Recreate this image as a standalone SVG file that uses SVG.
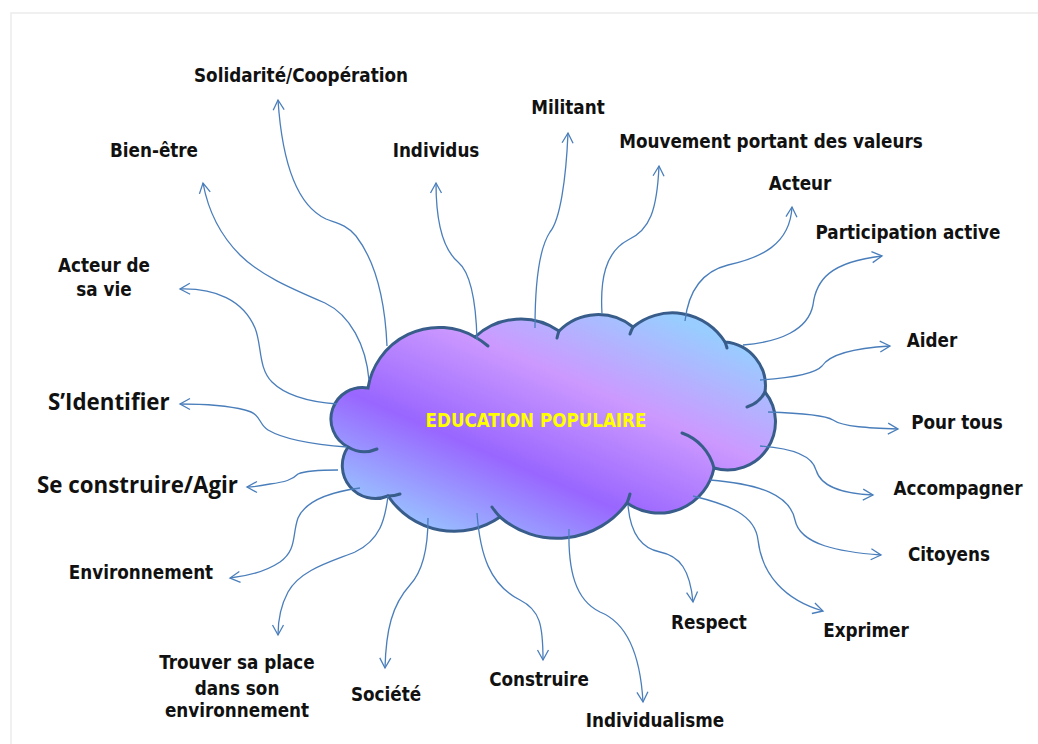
<svg xmlns="http://www.w3.org/2000/svg" width="1038" height="744" viewBox="0 0 1038 744">
  <defs>
    <linearGradient id="cloudFill" gradientUnits="userSpaceOnUse" x1="360" y1="545" x2="503" y2="217">
      <stop offset="0.08" stop-color="#99ccff"/>
      <stop offset="0.38" stop-color="#9966ff"/>
      <stop offset="0.66" stop-color="#cc99ff"/>
      <stop offset="0.93" stop-color="#99ccff"/>
    </linearGradient>
    <marker id="ah" markerUnits="userSpaceOnUse" markerWidth="12" markerHeight="12" refX="10" refY="6" orient="auto" overflow="visible">
      <path d="M0,0.5 L10,6 L0,11.5" fill="none" stroke="#4a7ebb" stroke-width="1.3"/>
    </marker>
    <style>
      .lbl { font-family: 'DejaVu Sans Condensed', 'DejaVu Sans', sans-serif; font-stretch: condensed; font-weight: bold; font-size: 18.7px; fill: #111; text-anchor: middle; }
      .big { font-family: 'Open Sans', 'Liberation Sans', sans-serif; font-weight: 700; font-size: 22.3px; fill: #111; }
      .title { font-family: 'DejaVu Sans Condensed', 'DejaVu Sans', sans-serif; font-stretch: condensed; font-weight: bold; font-size: 18.6px; fill: #ffff00; text-anchor: middle; }
      .body { fill: url(#cloudFill); stroke: #385d8a; stroke-width: 3; }
      .edge { fill: none; stroke: #385d8a; stroke-width: 3; stroke-linecap: round; }
      #connectors path { fill: none; stroke: #4a7ebb; stroke-width: 1.3; marker-end: url(#ah); }
    </style>
  </defs>

  <rect width="1038" height="744" fill="#ffffff"/>
  <!-- page frame -->
  <path d="M11,744 L11,13 L1038,13" fill="none" stroke="#ebebeb" stroke-width="1.5"/>

  <!-- central cloud -->
  <g id="node-education-populaire">
    <path class="body" d="M368,388 A72,72 0 0 1 475,337 A67,67 0 0 1 559,331 A55,55 0 0 1 633,327 A62,62 0 0 1 725,342 A44,44 0 0 1 765,392 A48,48 0 0 1 714,468 A56,56 0 0 1 627,503 A87,87 0 0 1 500,517 A80,80 0 0 1 388,496 A33,33 0 0 1 348,447 A31.5,31.5 0 0 1 368,388 Z"/>
    <!-- inner lobe creases -->
    <path class="edge" d="M475,337 A72,72 0 0 1 488,346"/>
    <path class="edge" d="M557,338 A55,55 0 0 1 559,331"/>
    <path class="edge" d="M630,334 A62,62 0 0 1 633,327"/>
    <path class="edge" d="M725,342 A62,62 0 0 1 727,348"/>
    <path class="edge" d="M765,392 A30,30 0 0 1 747,407"/>
    <path class="edge" d="M682,433 A50,50 0 0 1 714,468"/>
    <path class="edge" d="M630,494 A87,87 0 0 1 627,503"/>
    <path class="edge" d="M500,517 A87,87 0 0 1 492,507"/>
    <path class="edge" d="M400,494 A33,33 0 0 1 388,496"/>
    <path class="edge" d="M377,449 A31.5,31.5 0 0 1 348,447"/>
    <text class="title" x="536" y="427">EDUCATION POPULAIRE</text>
  </g>

  <!-- connectors from the cloud to each label -->
  <g id="connectors">
    <path id="c-solidarite" d="M387,346 C385,300 376,262 356,236 C346,224 336,223 326,219 C296,205 282,160 278,100"/>
    <path id="c-bien-etre" d="M369,380 C366,345 350,315 325,303 C290,288 260,275 240,255 C220,235 208,210 203,183"/>
    <path id="c-acteur-vie" d="M337,404 C310,402 285,395 272,382 C258,368 262,345 255,328 C243,300 215,288 180,289"/>
    <path id="c-identifier" d="M347,447 C320,445 285,440 268,430 C258,424 262,414 245,410 C225,405 200,404 180,404"/>
    <path id="c-construire-agir" d="M338,470 C320,470 305,471 298,474 C292,480 285,482 270,484 C260,486 252,487 247,487"/>
    <path id="c-environnement" d="M360,488 C330,492 306,500 298,518 C292,535 297,550 280,562 C265,572 248,576 230,578"/>
    <path id="c-trouver" d="M388,496 C385,520 380,540 355,552 C330,562 300,570 288,592 C280,607 278,620 278,635"/>
    <path id="c-societe" d="M428,518 C428,545 424,570 410,585 C392,605 386,630 385,668"/>
    <path id="c-construire" d="M477,513 C480,555 490,585 520,600 C540,610 543,625 543,660"/>
    <path id="c-individualisme" d="M569,529 C568,570 575,600 600,612 C625,622 640,650 643,702"/>
    <path id="c-respect" d="M628,505 C630,530 640,548 660,552 C680,556 690,570 693,602"/>
    <path id="c-exprimer" d="M693,496 C730,505 755,515 758,540 C762,575 785,600 823,611"/>
    <path id="c-citoyens" d="M710,480 C760,484 790,495 795,520 C800,545 840,552 881,555"/>
    <path id="c-accompagner" d="M760,446 C790,448 812,455 816,470 C822,490 850,494 873,495"/>
    <path id="c-pour-tous" d="M768,412 C800,413 825,415 833,420 C843,427 870,428 898,429"/>
    <path id="c-aider" d="M760,380 C790,378 815,374 822,366 C830,354 855,348 890,346"/>
    <path id="c-participation" d="M743,345 C780,342 808,330 813,305 C816,280 830,262 882,256"/>
    <path id="c-acteur" d="M685,321 C688,295 700,272 728,265 C760,258 790,245 792,207"/>
    <path id="c-mouvement" d="M602,314 C600,280 605,252 628,240 C650,230 657,210 659,166"/>
    <path id="c-militant" d="M535,328 C535,290 538,250 550,232 C560,220 566,180 568,133"/>
    <path id="c-individus" d="M477,340 C476,300 470,272 458,262 C444,250 436,225 436,183"/>
  </g>

  <!-- labels -->
  <g id="node-solidarite"><text class="lbl" x="301" y="82">Solidarité/Coopération</text></g>
  <g id="node-bien-etre"><text class="lbl" x="154" y="157">Bien-être</text></g>
  <g id="node-individus"><text class="lbl" x="436" y="157">Individus</text></g>
  <g id="node-militant"><text class="lbl" x="568" y="114">Militant</text></g>
  <g id="node-mouvement"><text class="lbl" x="771" y="148">Mouvement portant des valeurs</text></g>
  <g id="node-acteur"><text class="lbl" x="800" y="190">Acteur</text></g>
  <g id="node-participation"><text class="lbl" x="908" y="239">Participation active</text></g>
  <g id="node-aider"><text class="lbl" x="932" y="347">Aider</text></g>
  <g id="node-pour-tous"><text class="lbl" x="957" y="429">Pour tous</text></g>
  <g id="node-accompagner"><text class="lbl" x="958" y="495">Accompagner</text></g>
  <g id="node-citoyens"><text class="lbl" x="949" y="561">Citoyens</text></g>
  <g id="node-exprimer"><text class="lbl" x="866" y="637">Exprimer</text></g>
  <g id="node-respect"><text class="lbl" x="709" y="629">Respect</text></g>
  <g id="node-individualisme"><text class="lbl" x="655" y="727">Individualisme</text></g>
  <g id="node-construire"><text class="lbl" x="539" y="686">Construire</text></g>
  <g id="node-societe"><text class="lbl" x="386" y="701">Société</text></g>
  <g id="node-trouver">
    <text class="lbl" x="237" y="669">Trouver sa place</text>
    <text class="lbl" x="237" y="695">dans son</text>
    <text class="lbl" x="237" y="717">environnement</text>
  </g>
  <g id="node-environnement"><text class="lbl" x="141" y="579">Environnement</text></g>
  <g id="node-construire-agir"><text class="big" x="37" y="493">Se construire/Agir</text></g>
  <g id="node-identifier"><text class="big" x="48" y="410">S’Identifier</text></g>
  <g id="node-acteur-vie">
    <text class="lbl" x="104" y="272">Acteur de</text>
    <text class="lbl" x="104" y="296">sa vie</text>
  </g>
</svg>
